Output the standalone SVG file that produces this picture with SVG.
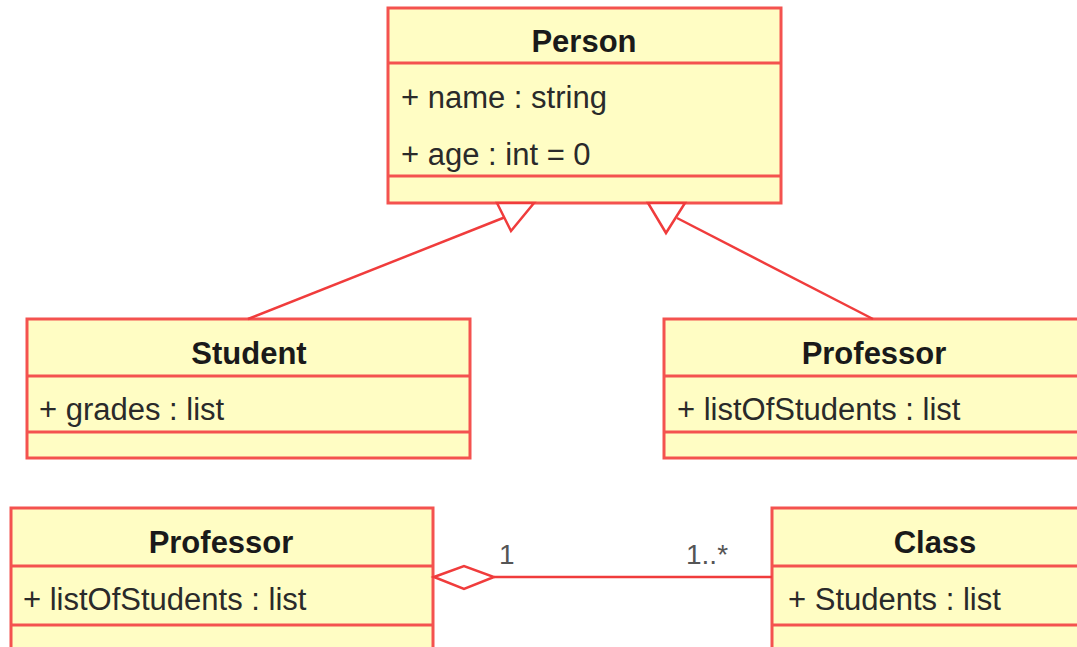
<svg xmlns="http://www.w3.org/2000/svg" width="1077" height="647" viewBox="0 0 1077 647">
<style>
.box{fill:#FFFDC4;stroke:#F4524F;stroke-width:3}
.div{stroke:#F4524F;stroke-width:3;fill:none}
.title{font-family:"Liberation Sans",Arial,sans-serif;font-weight:bold;font-size:31px;fill:#1a1a1a;text-anchor:middle}
.attr{font-family:"Liberation Sans",Arial,sans-serif;font-size:31px;fill:#2a2a2a}
.mult{font-family:"Liberation Sans",Arial,sans-serif;font-size:28px;fill:#555}
.conn{stroke:#F03C3C;stroke-width:2.5;fill:none}
.head{stroke:#F03C3C;stroke-width:2.5;fill:#fff}
</style>
<rect width="1077" height="647" fill="#fff"/>
<g id="person">
<rect class="box" x="388" y="8" width="393" height="195"/>
<line class="div" x1="388" y1="63" x2="781" y2="63"/>
<line class="div" x1="388" y1="176" x2="781" y2="176"/>
<text class="title" x="584" y="52">Person</text>
<text class="attr" x="401" y="108">+ name : string</text>
<text class="attr" x="401" y="165">+ age : int = 0</text>
</g>
<g id="student">
<rect class="box" x="27" y="319" width="443" height="139"/>
<line class="div" x1="27" y1="376" x2="470" y2="376"/>
<line class="div" x1="27" y1="432" x2="470" y2="432"/>
<text class="title" x="249" y="364">Student</text>
<text class="attr" x="39" y="420">+ grades : list</text>
</g>
<g id="professor1">
<rect class="box" x="664" y="319" width="422" height="139"/>
<line class="div" x1="664" y1="376" x2="1086" y2="376"/>
<line class="div" x1="664" y1="432" x2="1086" y2="432"/>
<text class="title" x="874" y="364">Professor</text>
<text class="attr" x="677" y="420">+ listOfStudents : list</text>
</g>
<g id="professor2">
<rect class="box" x="11" y="508" width="422" height="150"/>
<line class="div" x1="11" y1="566" x2="433" y2="566"/>
<line class="div" x1="11" y1="625" x2="433" y2="625"/>
<text class="title" x="221" y="553">Professor</text>
<text class="attr" x="23" y="610">+ listOfStudents : list</text>
</g>
<g id="class">
<rect class="box" x="772" y="508" width="326" height="150"/>
<line class="div" x1="772" y1="566" x2="1098" y2="566"/>
<line class="div" x1="772" y1="625" x2="1098" y2="625"/>
<text class="title" x="935" y="553">Class</text>
<text class="attr" x="788" y="610">+ Students : list</text>
</g>
<g id="connectors">
<line class="conn" x1="248" y1="319" x2="508" y2="216"/>
<polygon class="head" points="497,203 534,203 511,231"/>
<line class="conn" x1="873" y1="319" x2="677" y2="218"/>
<polygon class="head" points="648,203 685,203 666,233"/>
<line class="conn" x1="494" y1="577" x2="772" y2="577"/>
<polygon class="head" points="434,577 464,566 494,577 464,589"/>
<text class="mult" x="499" y="564">1</text>
<text class="mult" x="686" y="564">1..*</text>
</g>
</svg>
